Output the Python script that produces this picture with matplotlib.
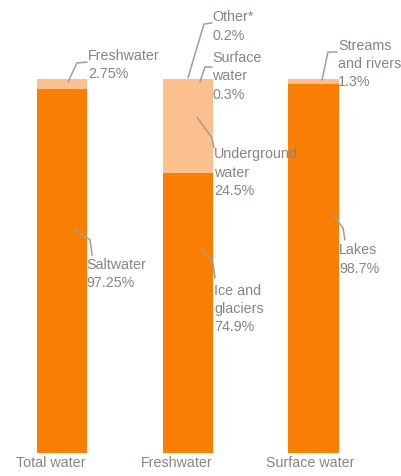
import matplotlib.pyplot as plt

# Distribution of the world's water (percent of each column)
categories = ["Total water", "Freshwater", "Surface water"]

# stacked segments, bottom to top, per column
segment_names = [
    ["Saltwater", "Freshwater"],
    ["Ice and\nglaciers", "Underground\nwater", "Surface\nwater", "Other*"],
    ["Lakes", "Streams\nand rivers"],
]
segment_values = [
    [97.25, 2.75],
    [74.9, 24.5, 0.3, 0.2],
    [98.7, 1.3],
]
segment_labels = [
    ["97.25%", "2.75%"],
    ["74.9%", "24.5%", "0.3%", "0.2%"],
    ["98.7%", "1.3%"],
]

DARK = "#F97E04"
LIGHT = "#FCC08E"
TEXT = "#8C8282"
LEADER = "#A39C9C"

# leader line (start, elbow, end) and text anchor for each segment label
leaders = [
    [((0.103, 59.6), (0.223, 57.0), (0.239, 52.9), (0.191, 47.9)),
     ((0.048, 99.2), (0.119, 104.3), (0.199, 104.5), (0.207, 103.7))],
    [((1.121, 54.3), (1.201, 50.8), (1.217, 46.8), (1.209, 38.5)),
     ((1.074, 89.8), (1.193, 84.2), (1.209, 81.6), (1.209, 74.9)),
     ((1.097, 99.2), (1.137, 103.2), (1.193, 103.2), (1.193, 100.7)),
     ((1.002, 100.3), (1.129, 114.7), (1.193, 115.0), (1.193, 114.0))],
    [((2.155, 63.6), (2.235, 60.2), (2.250, 57.0), (2.203, 51.7)),
     ((2.068, 99.7), (2.115, 107.2), (2.187, 107.2), (2.195, 104.0))],
]
category_offsets = [-0.087, -0.086, -0.028]

plt.rcParams["font.family"] = ["Liberation Sans", "DejaVu Sans"]

fig = plt.figure(figsize=(4.02, 4.76), dpi=100)
ax = fig.add_axes([0, 23 / 476, 1, 374 / 476])

width = 0.40
for i, vals in enumerate(segment_values):
    bottom = 0.0
    for j, v in enumerate(vals):
        ax.bar(i, v, width, bottom=bottom, color=DARK if j == 0 else LIGHT,
               edgecolor="none")
        bottom += v

for i in range(len(categories)):
    for j, (name, pct) in enumerate(zip(segment_names[i], segment_labels[i])):
        start, elbow, end, anchor = leaders[i][j]
        ax.plot([start[0], elbow[0], end[0]], [start[1], elbow[1], end[1]],
                color=LEADER, lw=1.1, clip_on=False, solid_capstyle="round")
        ax.text(anchor[0], anchor[1], f"{name}\n{pct}", color=TEXT,
                fontsize=10.3, ha="left", va="center", linespacing=1.4,
                clip_on=False)
    ax.text(i + category_offsets[i], -2.7, categories[i], color=TEXT,
            fontsize=10.3, ha="center", va="center", clip_on=False)

ax.set_xlim(-0.493, 2.704)
ax.set_ylim(0, 100)
ax.axis("off")

fig.savefig("out.png", dpi=100)
